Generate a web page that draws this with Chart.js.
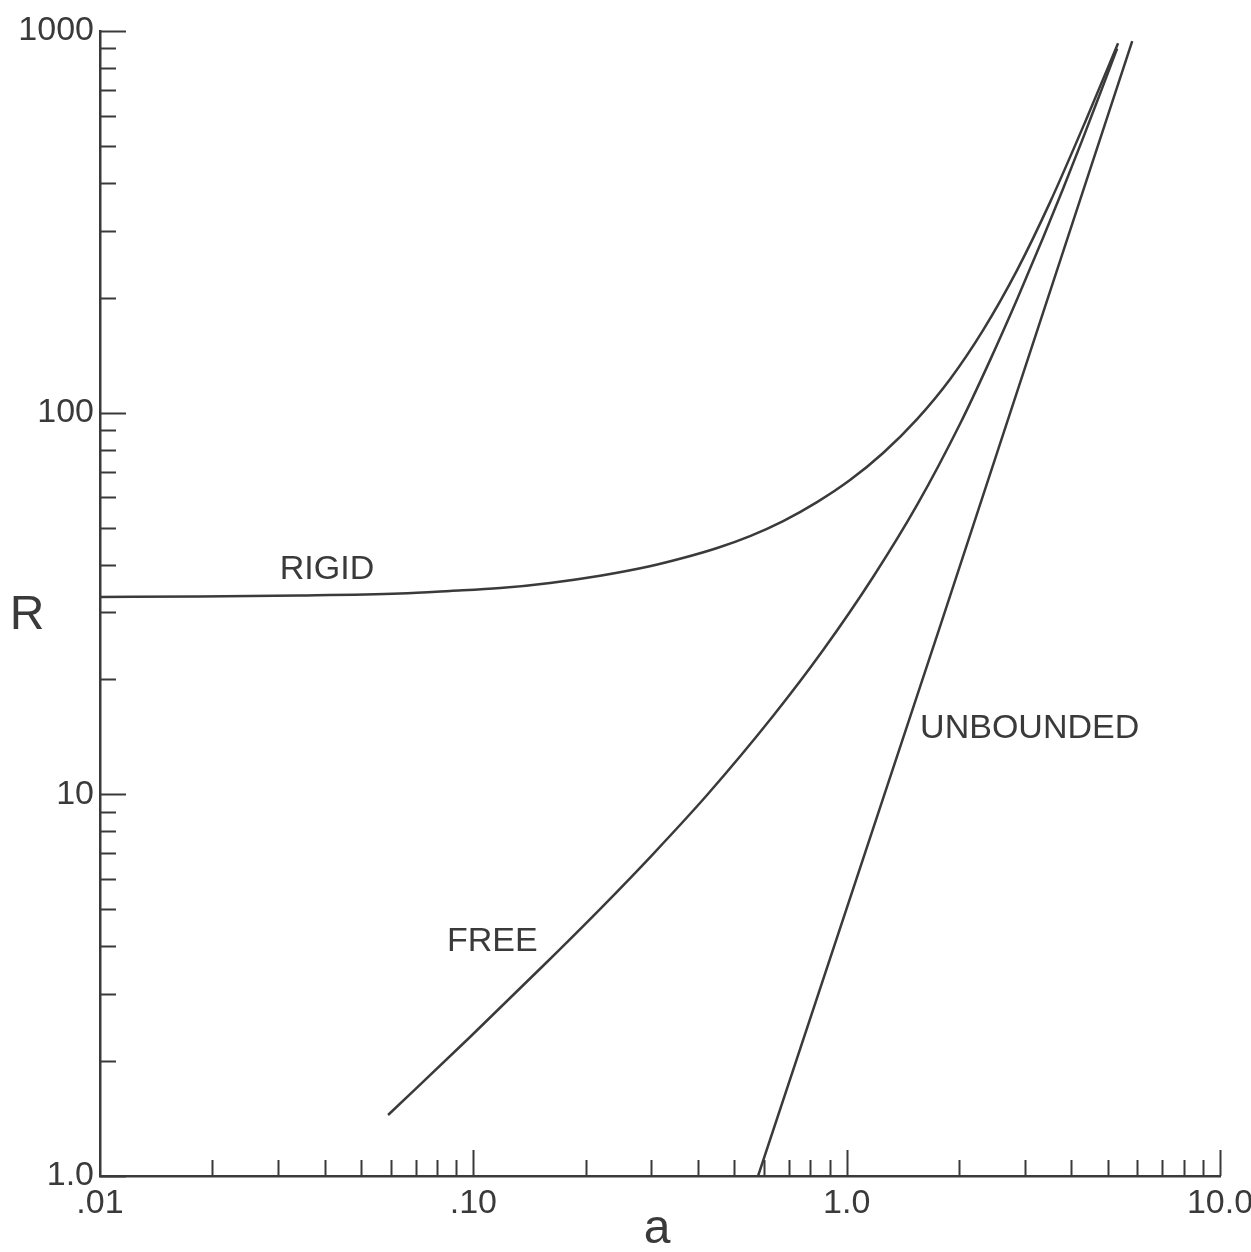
<!DOCTYPE html>
<html>
<head>
<meta charset="utf-8">
<script src="https://cdn.jsdelivr.net/npm/chart.js@4.4.1/dist/chart.umd.min.js"></script>
<style>
  html, body { margin: 0; padding: 0; background: #fff; }
  #wrap { width: 1251px; height: 1252px; }
</style>
</head>
<body>
<div id="wrap"><canvas id="chart"></canvas></div>
<script>
// values: wavenumber a, number R
const rigidA = [0.01, 0.0185, 0.0343, 0.0636, 0.0866, 0.118, 0.1605, 0.2185, 0.297, 0.364, 0.450, 0.551, 0.676, 0.833, 1.021, 1.252, 1.544, 1.892, 2.320, 2.861, 3.507, 4.351, 5.333];
const rigidR = [32.9, 33.0, 33.2, 33.6, 34.1, 34.7, 35.8, 37.4, 39.6, 41.6, 44.2, 47.5, 52.0, 58.3, 66.6, 78.4, 96.2, 122.4, 164.6, 236.4, 356.2, 577.0, 929.2];

const freeA = [0.0591, 0.098, 0.1575, 0.2225, 0.303, 0.4227, 0.635, 0.865, 1.177, 1.544, 2.013, 2.422, 2.861, 3.358, 3.799, 4.299, 4.773, 5.302];
const freeR = [1.445, 2.313, 3.637, 5.097, 6.976, 9.958, 16.04, 23.88, 37.1, 57.3, 93.5, 137.3, 198.2, 287.1, 386.3, 524.8, 685.5, 899.5];

const unboundedA = [0.579, 1.78, 5.82];
const unboundedR = [1.0, 27.6, 941];

const xTickValues = [0.01, 0.1, 1, 10];
const xTickLabels = [".01", ".10", "1.0", "10.0"];
const yTickValues = [1, 10, 100, 1000];
const yTickLabels = ["1.0", "10", "100", "1000"];

// curve names and where they are written (left edge, middle)
const curveNames = ["RIGID", "FREE", "UNBOUNDED"];
const nameA = [0.0303, 0.085, 1.573];
const nameR = [38.7, 4.1, 14.9];

const ink = "#3a3a3a";
const font = "Liberation Sans";

function pairs(xs, ys) {
  return xs.map((v, i) => ({ x: v, y: ys[i] }));
}

// ticks inward on both axes, curve names, axis titles
const inkPlugin = {
  id: "ink",
  afterDraw(chart) {
    const { ctx, chartArea, scales } = chart;
    const sx = scales.x;
    const sy = scales.y;
    ctx.save();
    ctx.strokeStyle = ink;
    ctx.lineWidth = 2;
    ctx.beginPath();
    for (let d = 0; d < yTickValues.length; d++) {
      for (let m = 1; m <= 9; m++) {
        const v = yTickValues[d] * m;
        if (v > yTickValues[yTickValues.length - 1]) break;
        const py = Math.round(sy.getPixelForValue(v)) + 0.5;
        const len = m === 1 ? 26 : 16;
        ctx.moveTo(chartArea.left, py);
        ctx.lineTo(chartArea.left + len, py);
      }
    }
    for (let d = 0; d < xTickValues.length; d++) {
      for (let m = 1; m <= 9; m++) {
        const v = xTickValues[d] * m;
        if (v > xTickValues[xTickValues.length - 1] + 1e-9) break;
        if (d === 0 && m === 1) continue;
        const px = Math.round(sx.getPixelForValue(v)) + 0.5;
        const len = m === 1 ? 26 : 16;
        ctx.moveTo(px, chartArea.bottom);
        ctx.lineTo(px, chartArea.bottom - len);
      }
    }
    ctx.stroke();

    ctx.fillStyle = ink;
    ctx.font = "34px '" + font + "'";
    ctx.textAlign = "left";
    ctx.textBaseline = "middle";
    curveNames.forEach((name, i) => {
      ctx.fillText(name, sx.getPixelForValue(nameA[i]), sy.getPixelForValue(nameR[i]));
    });

    ctx.font = "48px '" + font + "'";
    ctx.textAlign = "center";
    ctx.textBaseline = "alphabetic";
    ctx.fillText("R", chartArea.left - 73, (chartArea.top + chartArea.bottom) / 2 + 25);
    ctx.fillText("a", (chartArea.left + chartArea.right) / 2 - 3, chartArea.bottom + 67);
    ctx.restore();
  },
};

const lineStyle = {
  borderColor: ink,
  borderWidth: 2.5,
  pointRadius: 0,
  fill: false,
};

new Chart(document.getElementById("chart"), {
  type: "line",
  data: {
    datasets: [
      { label: "RIGID", data: pairs(rigidA, rigidR), cubicInterpolationMode: "monotone", ...lineStyle },
      { label: "FREE", data: pairs(freeA, freeR), cubicInterpolationMode: "monotone", ...lineStyle },
      { label: "UNBOUNDED", data: pairs(unboundedA, unboundedR), tension: 0, ...lineStyle },
    ],
  },
  options: {
    responsive: true,
    maintainAspectRatio: false,
    animation: false,
    layout: { padding: { top: 31, right: 31, bottom: 0, left: 0 } },
    plugins: {
      legend: { display: false },
      tooltip: { enabled: false },
    },
    scales: {
      x: {
        type: "logarithmic",
        position: "bottom",
        min: 0.01,
        max: 10,
        grid: { display: false, drawTicks: false },
        border: { display: true, color: ink, width: 2.5 },
        afterBuildTicks: (s) => {
          s.ticks = xTickValues.map((v) => ({ value: v }));
        },
        afterFit: (s) => {
          s.height = 76;
          s.paddingLeft = 0;
          s.paddingRight = 0;
        },
        ticks: {
          autoSkip: false,
          maxRotation: 0,
          padding: 7,
          color: ink,
          font: { family: font, size: 34 },
          callback: (v, i) => xTickLabels[i],
        },
      },
      y: {
        type: "logarithmic",
        position: "left",
        min: 1,
        max: 1000,
        grid: { display: false, drawTicks: false },
        border: { display: true, color: ink, width: 2.5 },
        afterBuildTicks: (s) => {
          s.ticks = yTickValues.map((v) => ({ value: v }));
        },
        afterFit: (s) => {
          s.width = 100;
          s.paddingTop = 0;
          s.paddingBottom = 0;
        },
        ticks: {
          autoSkip: false,
          padding: 6,
          color: ink,
          font: { family: font, size: 34 },
          callback: (v, i) => yTickLabels[i],
        },
      },
    },
  },
  plugins: [inkPlugin],
});
</script>
</body>
</html>
